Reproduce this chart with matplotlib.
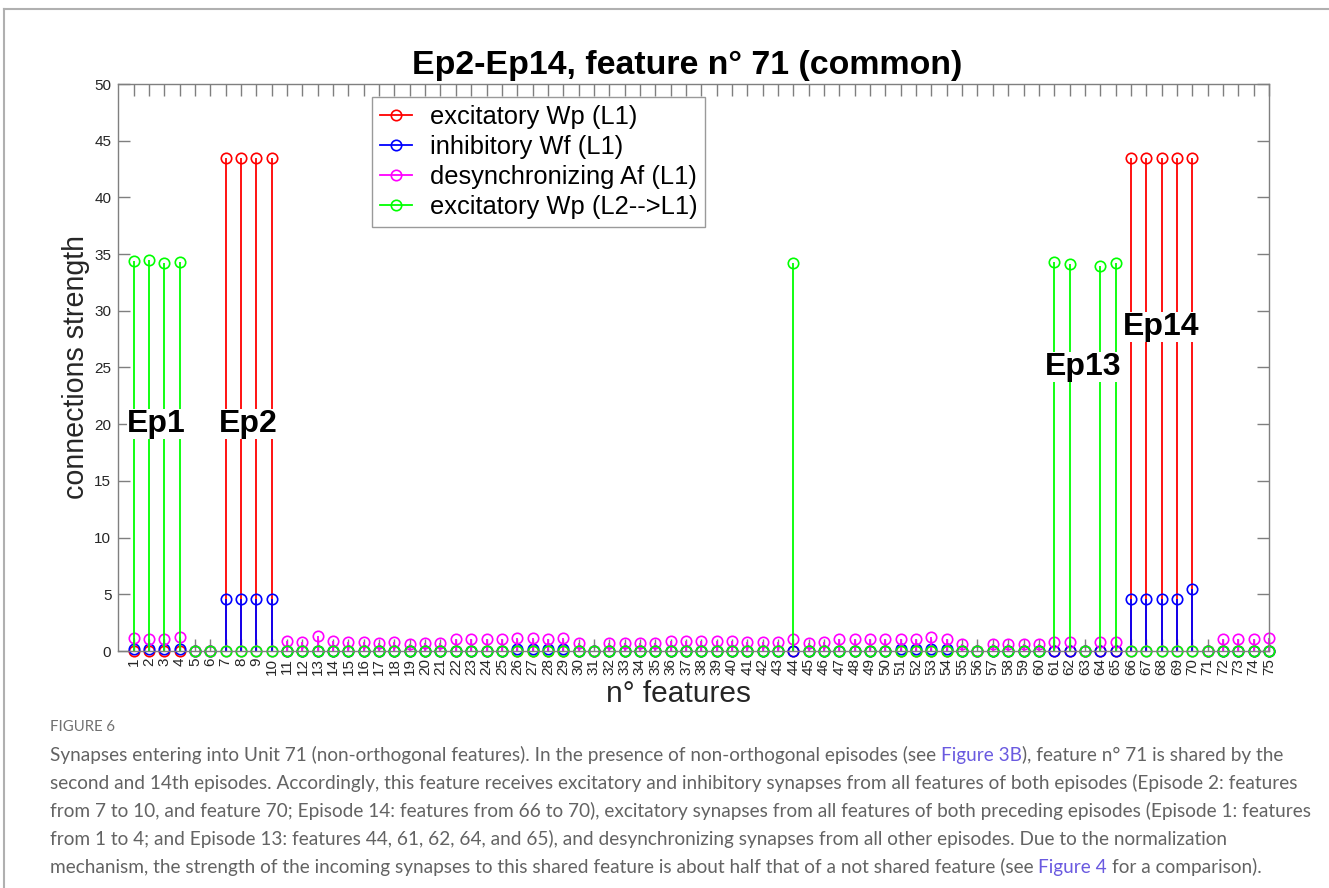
import numpy as np
import matplotlib
matplotlib.use("Agg")
import matplotlib.pyplot as plt
from matplotlib.lines import Line2D
from matplotlib.legend_handler import HandlerLine2D

# ---------- DATA ----------
features = list(range(1, 76))

exc_wp_l1 = [0, 0, 0, 0, 0, 0, 43.5, 43.5, 43.5, 43.5,
             0, 0, 0, 0, 0, 0, 0, 0, 0, 0,
             0, 0, 0, 0, 0, 0, 0, 0, 0, 0,
             0, 0, 0, 0, 0, 0, 0, 0, 0, 0,
             0, 0, 0, 0, 0, 0, 0, 0, 0, 0,
             0, 0, 0, 0, 0, 0, 0, 0, 0, 0,
             0, 0, 0, 0, 0, 43.5, 43.5, 43.5, 43.5, 43.5,
             0, 0, 0, 0, 0]

inh_wf_l1 = [0.2, 0.2, 0.2, 0.2, 0, 0, 4.6, 4.6, 4.6, 4.6,
             0, 0, 0, 0, 0, 0, 0, 0, 0, 0,
             0, 0, 0, 0, 0, 0.15, 0.15, 0.15, 0.15, 0,
             0, 0, 0, 0, 0, 0, 0, 0, 0, 0,
             0, 0, 0, 0, 0, 0, 0, 0, 0, 0,
             0.15, 0.15, 0.15, 0.15, 0, 0, 0, 0, 0, 0,
             0, 0, 0, 0, 0, 4.6, 4.6, 4.6, 4.6, 5.5,
             0, 0, 0, 0, 0]

desync_af_l1 = [1.15, 1.1, 1.1, 1.25, 0, 0, 0, 0, 0, 0,
                0.86, 0.8, 1.3, 0.89, 0.83, 0.77, 0.71, 0.77, 0.65, 0.71,
                0.68, 1.04, 1.04, 1.04, 1.07, 1.15, 1.15, 1.1, 1.15, 0.71,
                0, 0.71, 0.71, 0.68, 0.71, 0.89, 0.89, 0.89, 0.89, 0.89,
                0.77, 0.77, 0.77, 1.1, 0.71, 0.77, 1.04, 1.1, 1.04, 1.04,
                1.1, 1.1, 1.22, 1.1, 0.62, 0, 0.62, 0.62, 0.62, 0.62,
                0.83, 0.83, 0, 0.83, 0.83, 0, 0, 0, 0, 0,
                0, 1.04, 1.1, 1.1, 1.13]

exc_wp_l2l1 = [34.4, 34.45, 34.2, 34.3, 0, 0, 0, 0, 0, 0,
               0, 0, 0, 0, 0, 0, 0, 0, 0, 0,
               0, 0, 0, 0, 0, 0, 0, 0, 0, 0,
               0, 0, 0, 0, 0, 0, 0, 0, 0, 0,
               0, 0, 0, 34.2, 0, 0, 0, 0, 0, 0,
               0, 0, 0, 0, 0, 0, 0, 0, 0, 0,
               34.3, 34.15, 0, 33.95, 34.2, 0, 0, 0, 0, 0,
               0, 0, 0, 0, 0]

series = [
    (exc_wp_l1, "#ff0000", "excitatory Wp (L1)"),
    (inh_wf_l1, "#0000ff", "inhibitory Wf (L1)"),
    (desync_af_l1, "#ff00ff", "desynchronizing Af (L1)"),
    (exc_wp_l2l1, "#00ff00", "excitatory Wp (L2-->L1)"),
]

caption_title = "FIGURE 6"
caption_lines = [
    [("Synapses entering into Unit 71 (non-orthogonal features). In the presence of non-orthogonal episodes (see", False),
     (" Figure 3B", True),
     ("), feature n° 71 is shared by the", False)],
    [("second and 14th episodes. Accordingly, this feature receives excitatory and inhibitory synapses from all features of both episodes (Episode 2: features", False)],
    [("from 7 to 10, and feature 70; Episode 14: features from 66 to 70), excitatory synapses from all features of both preceding episodes (Episode 1: features", False)],
    [("from 1 to 4; and Episode 13: features 44, 61, 62, 64, and 65), and desynchronizing synapses from all other episodes. Due to the normalization", False)],
    [("mechanism, the strength of the incoming synapses to this shared feature is about half that of a not shared feature (see", False),
     (" Figure 4", True),
     (" for a comparison).", False)],
]

W, H = 1329, 888
AXIS_GRAY = "#7f7f7f"
LABEL_GRAY = "#262626"


class StemLegendHandler(HandlerLine2D):
    # MATLAB style stem legend: line with the marker at its right end
    def get_xdata(self, legend, xdescent, ydescent, width, height, fontsize):
        return [-xdescent, -xdescent + width], [-xdescent + width]


fig = plt.figure(figsize=(W / 100, H / 100), dpi=100)
fig.patch.set_facecolor("white")

ax = fig.add_axes([118.3 / W, 1 - 651 / H, 1150.7 / W, 567 / H])

# ---------- STEMS ----------
for values, color, label in series:
    markerline, stemlines, baseline = ax.stem(
        features, values, linefmt="-", markerfmt="o", basefmt=" "
    )
    stemlines.set_color(color)
    stemlines.set_linewidth(1.3)
    markerline.set_color(color)
    markerline.set_markerfacecolor("none")
    markerline.set_markersize(7.5)
    markerline.set_markeredgewidth(1.2)
    markerline.set_clip_on(False)
    stemlines.set_clip_on(False)

ax.set_xlim(0, 75)
ax.set_ylim(0, 50)
ax.set_xticks(features)
ax.set_xticklabels([str(f) for f in features], rotation=90)
ax.set_yticks(np.arange(0, 51, 5))

for side in ["left", "right", "top", "bottom"]:
    ax.spines[side].set_color(AXIS_GRAY)
    ax.spines[side].set_linewidth(1.0)
ax.tick_params(axis="both", direction="in", length=8.3, width=1.0,
               color=AXIS_GRAY, labelcolor=LABEL_GRAY,
               top=True, right=True, labelsize=11)
ax.tick_params(axis="x", pad=5)
ax.tick_params(axis="y", pad=5)
for lab in ax.get_xticklabels() + ax.get_yticklabels():
    lab.set_fontfamily("Liberation Sans")

# ---------- EPISODE LABELS ----------
ep_kw = dict(fontsize=23, fontweight="bold", family="Liberation Sans",
             ha="center", va="center", zorder=5,
             bbox=dict(boxstyle="square,pad=0.0", facecolor="white", edgecolor="none"))
ax.text(2.5, 20.0, "Ep1", **ep_kw)
ax.text(8.5, 20.0, "Ep2", **ep_kw)
ax.text(62.9, 25.0, "Ep13", **ep_kw)
ax.text(67.95, 28.6, "Ep14", **ep_kw)

# ---------- LEGEND ----------
handles = [Line2D([], [], color=c, lw=1.3, marker="o", markerfacecolor="none",
                  markersize=7.5, markeredgewidth=1.2, label=lab)
           for _, c, lab in series]
leg = ax.legend(handles=handles, loc="upper left",
                bbox_to_anchor=(372 / W, 1 - 97 / H), bbox_transform=fig.transFigure,
                borderaxespad=0, fancybox=False, framealpha=1, edgecolor="#9a9a9a",
                handler_map={Line2D: StemLegendHandler(numpoints=1)},
                prop={"family": "Liberation Sans", "size": 18.4},
                handlelength=1.25, handletextpad=0.7, labelspacing=0.24,
                borderpad=0.3)
leg.get_frame().set_linewidth(1.0)

# ---------- TITLE / AXIS LABELS ----------
fig.text(687 / W, 1 - 74 / H, "Ep2-Ep14, feature n° 71 (common)",
         fontsize=24.4, fontweight="bold", family="Liberation Sans",
         ha="center", va="baseline", color="black")
fig.text(76 / W, 1 - 367 / H, "connections strength", rotation=90,
         fontsize=20.6, family="Liberation Sans", color=LABEL_GRAY,
         ha="center", va="center")
fig.text(678 / W, 1 - 694 / H, "n° features",
         fontsize=21.5, family="Liberation Sans", color=LABEL_GRAY,
         ha="center", va="center")

# ---------- PAGE FRAME ----------
fig.add_artist(Line2D([4 / W, 1], [1 - 9 / H, 1 - 9 / H], transform=fig.transFigure,
                      color="#b0b0b0", lw=1.5))
fig.add_artist(Line2D([4 / W, 4 / W], [0, 1 - 9 / H], transform=fig.transFigure,
                      color="#b0b0b0", lw=1.5))

# ---------- CAPTION ----------
renderer = fig.canvas.get_renderer()
cap_kw = dict(family="Lato", va="baseline", ha="left")


def text_width(s, size):
    t = fig.text(0, 0, s, fontsize=size, **cap_kw)
    w = t.get_window_extent(renderer).width
    t.remove()
    return w


first_line = "".join(s for s, _ in caption_lines[0])
cap_size = 12.5 * 1240 / text_width(first_line, 12.5)

fig.text(50 / W, 1 - 731 / H, caption_title, fontsize=cap_size * 0.78,
         color="#707070", **cap_kw)

x0 = 50
for i, segs in enumerate(caption_lines):
    y = 1 - (761 + 28 * i) / H
    prefix = ""
    for seg, is_link in segs:
        prefix += seg
        body = seg.lstrip()
        x = x0 + text_width(prefix, cap_size) - text_width(body, cap_size)
        fig.text(x / W, y, body, fontsize=cap_size,
                 color="#6a5ae0" if is_link else "#636363", **cap_kw)

fig.savefig("out.png", dpi=100)
